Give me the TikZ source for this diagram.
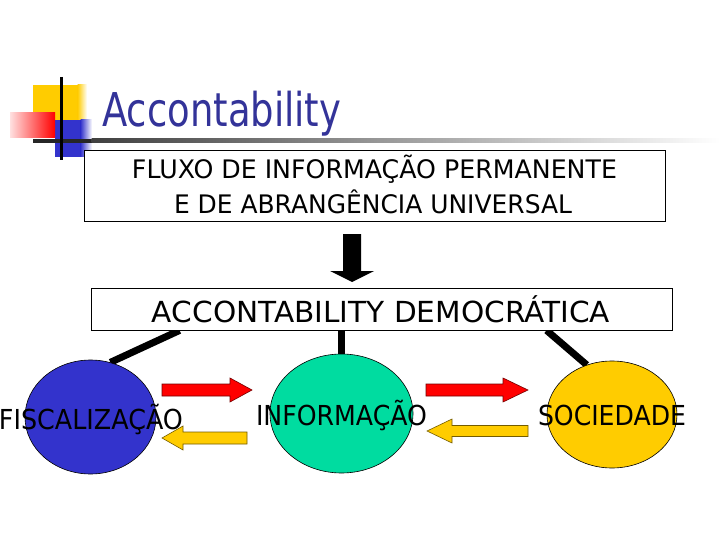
\documentclass[tikz,border=0pt]{standalone}
\usepackage{fontspec}
\setmainfont{DejaVu Sans}
\usetikzlibrary{shapes.geometric,calc,backgrounds}
\definecolor{titleblue}{HTML}{333399}
\definecolor{fisblue}{HTML}{3333CC}
\definecolor{infgreen}{HTML}{00DCA0}
\definecolor{socyellow}{HTML}{FFCC00}
\definecolor{arrred}{HTML}{FF0000}
\newcommand\fitw[2]{\resizebox{#1}{\height}{#2}}
\begin{document}
\begin{tikzpicture}[x=1pt,y=-1pt,
  box/.style={draw=black, line width=0.8pt, inner sep=0, fill=white},
  blob/.style={ellipse, draw=black, line width=0.6pt, inner sep=0},
  lbl/.style={anchor=base, inner sep=0, text=black},
  conn/.style={line width=7pt, black},
  redarr/.style={fill=arrred, draw=black!55!red, line width=0.6pt},
  yelarr/.style={fill=socyellow, draw=black!55!socyellow, line width=0.6pt},
  bigtxt/.style={font=\fontsize{25.5}{30}\selectfont},
  midtxt/.style={font=\fontsize{29}{34}\selectfont},
  blobtxt/.style={font=\fontsize{27.5}{32}\selectfont},
]
\useasboundingbox (0,0) rectangle (720,540);
\begin{scope}[on background layer]
  \fill[white] (0,0) rectangle (720,540);
\end{scope}

% title decoration
\fill[socyellow] (33,85) rectangle (78,135);
\shade[left color=socyellow, right color=white] (77.5,85) rectangle (87,120);
\fill[fisblue] (55,120) rectangle (81,157);
\shade[left color=fisblue, right color=white] (80.5,120) rectangle (92,157);
\shade[left color=red!12, right color=red] (10,113) rectangle (55,138);
\fill[black!85] (33,139) rectangle (92,143);
\shade[left color=black!75, right color=white] (91.5,139) rectangle (720,143);
\draw[line width=3pt] (61,77) -- (61,160);

% title
\node[anchor=base west, inner sep=0, text=titleblue, font=\fontsize{46.6}{52}\selectfont] (title) at (102,127) {\fitw{239pt}{Accontability}};

% top box
\node[box, minimum width=581pt, minimum height=71pt] (box1) at (375.3,186.3) {};
\node[lbl, bigtxt] (t1a) at (374.5,179) {\fitw{485pt}{FLUXO DE INFORMAÇÃO PERMANENTE}};
\node[lbl, bigtxt] (t1b) at (373,214) {\fitw{398pt}{E DE ABRANGÊNCIA UNIVERSAL}};

% down arrow
\fill[black] (343,234) -- (361,234) -- (361,271) -- (374,271) -- (352,282) -- (330,271) -- (343,271) -- cycle;

% second box
\node[box, minimum width=581pt, minimum height=42pt] (box2) at (381.5,309) {};
\node[lbl, midtxt] (t2) at (381,322) {\fitw{458pt}{ACCONTABILITY DEMOCRÁTICA}};

% ellipses
\node[blob, fill=fisblue, minimum width=131pt, minimum height=114pt] (fis) at (90.5,417) {};
\node[blob, fill=infgreen, minimum width=143pt, minimum height=119pt] (inf) at (341.5,413.5) {};
\node[blob, fill=socyellow, minimum width=130pt, minimum height=107pt] (soc) at (612,414.5) {};

\node[lbl, blobtxt] (fist) at (91,429) {\fitw{184pt}{FISCALIZAÇÃO}};
\node[lbl, blobtxt] (inft) at (341.5,425) {\fitw{171pt}{INFORMAÇÃO}};
\node[lbl, blobtxt] (soct) at (612,425) {\fitw{148pt}{SOCIEDADE}};

% connectors
\begin{scope}[on background layer]
  \draw[conn] ($(box2.south west)+(89,0)$) -- (fis.70);
  \draw[conn] (inf.north |- box2.south) -- (inf.north);
  \draw[conn] ($(box2.south west)+(456,0)$) -- (soc.117);
\end{scope}

% block arrows
\filldraw[redarr] (162,384) -- (230,384) -- (230,378) -- (252,390) -- (230,402) -- (230,396) -- (162,396) -- cycle;
\filldraw[redarr] (426,384) -- (503,384) -- (503,378) -- (528,390) -- (503,402) -- (503,396) -- (426,396) -- cycle;
\filldraw[yelarr] (247,432) -- (183,432) -- (183,426) -- (162,438) -- (183,450) -- (183,444) -- (247,444) -- cycle;
\filldraw[yelarr] (528,425.5) -- (452,425.5) -- (452,419) -- (427,431) -- (452,443) -- (452,436.5) -- (528,436.5) -- cycle;
\end{tikzpicture}
\end{document}
